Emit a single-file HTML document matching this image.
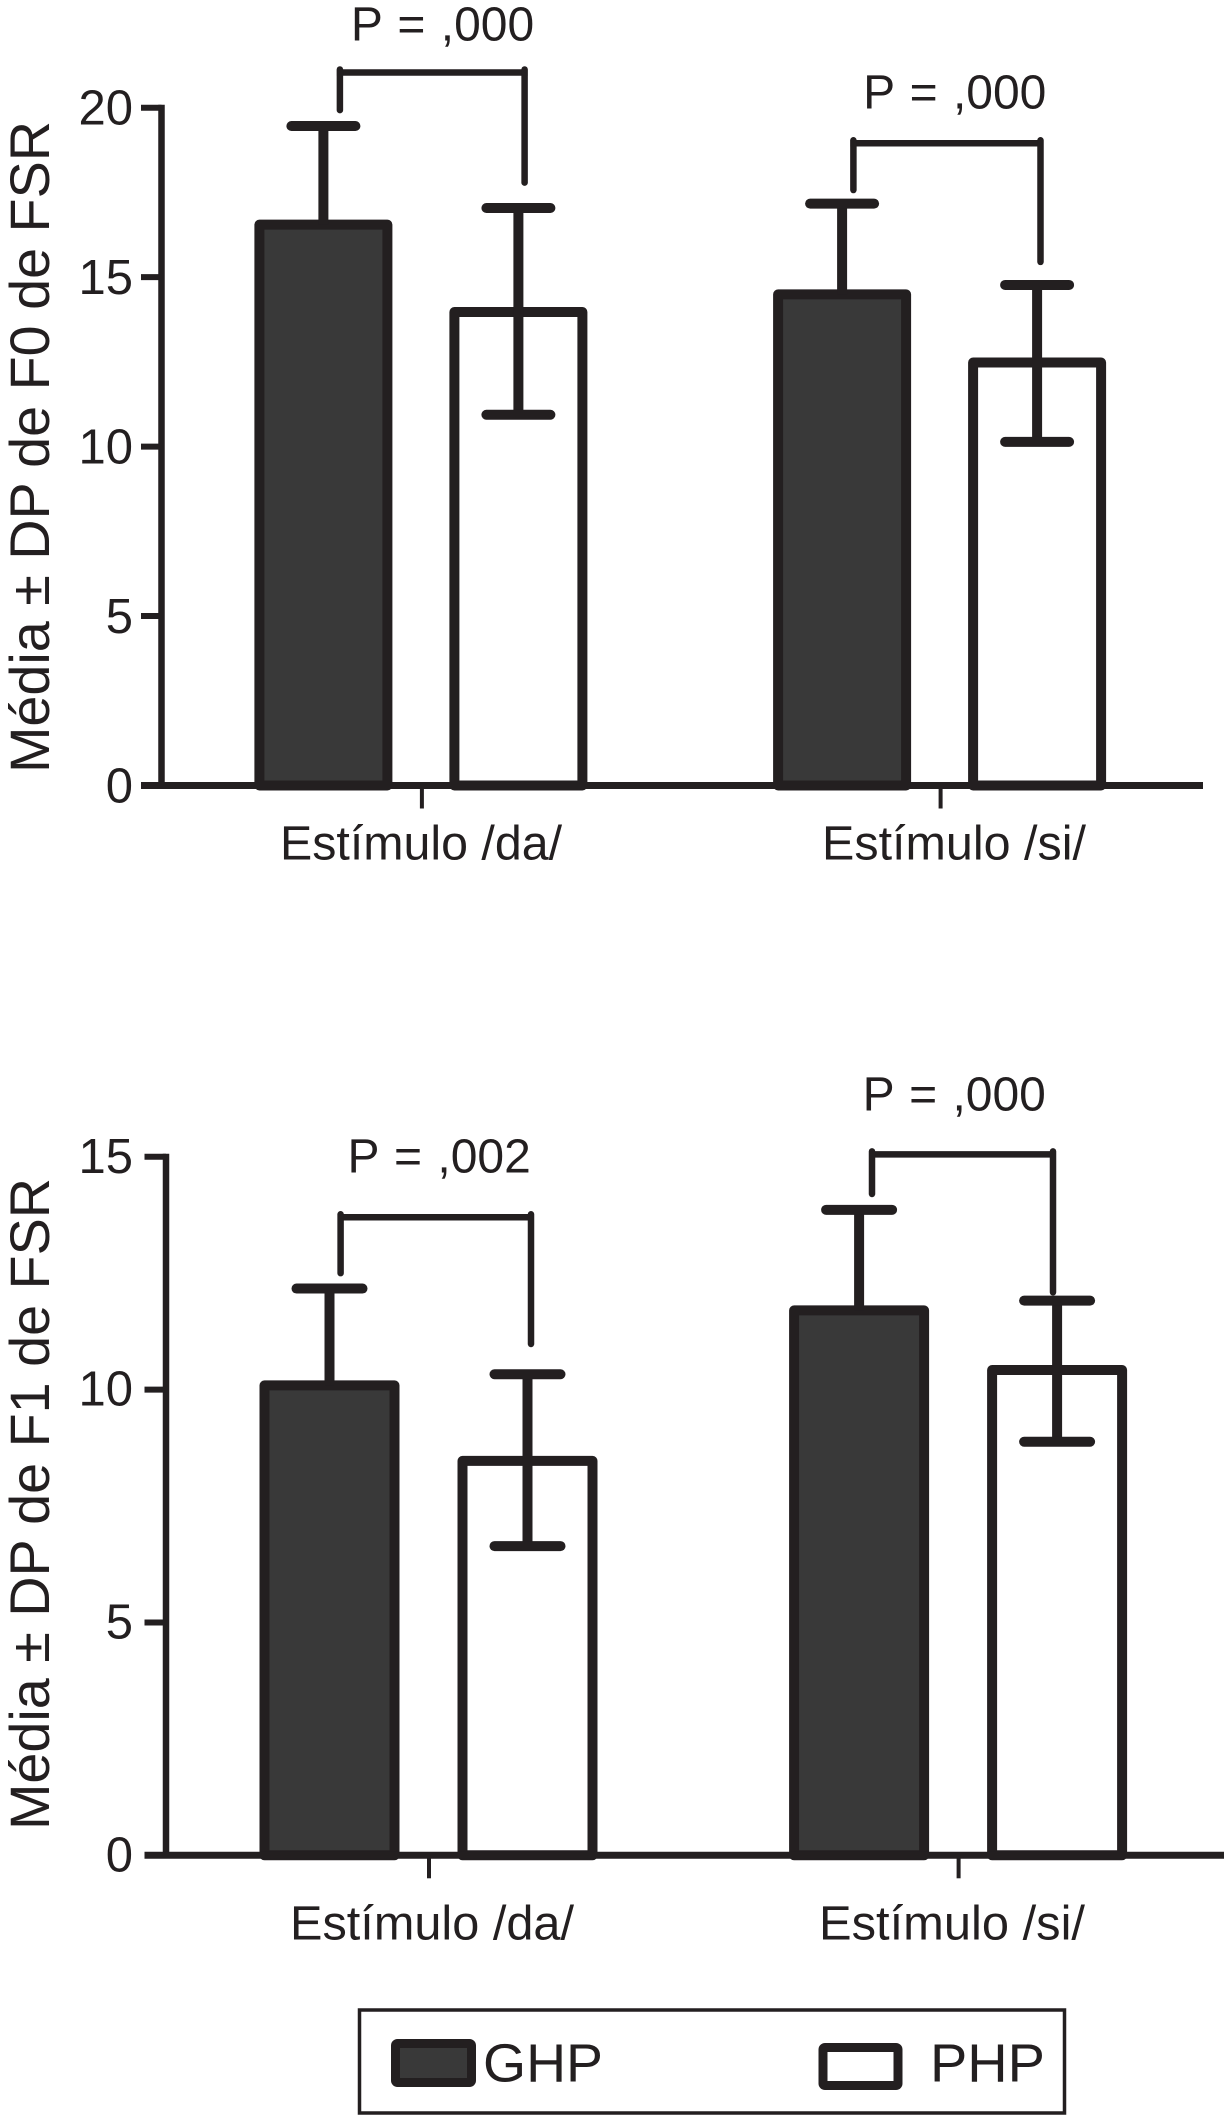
<!DOCTYPE html>
<html lang="pt">
<head>
<meta charset="utf-8">
<title>Média ± DP de F0 e F1 de FSR</title>
<style>
html,body{margin:0;padding:0;background:#fff;}
svg{display:block;}
text{font-family:"Liberation Sans",Arial,sans-serif;fill:#231f20;}
</style>
</head>
<body>
<svg id="figure" xmlns="http://www.w3.org/2000/svg" width="1224" height="2115" viewBox="0 0 1224 2115">
  <rect x="0" y="0" width="1224" height="2115" fill="#ffffff"/>
  <g id="chart-f0">
    <text transform="translate(49,773) rotate(-90)" font-size="55.5" textLength="652" lengthAdjust="spacingAndGlyphs">Média ± DP de F0 de FSR</text>
  </g>
  <g id="chart-f1">
    <text transform="translate(49,1830) rotate(-90)" font-size="55.5" textLength="652" lengthAdjust="spacingAndGlyphs">Média ± DP de F1 de FSR</text>
  </g>
  <g id="legend">
    <rect x="359.5" y="2010" width="705" height="103" fill="#ffffff" stroke="#231f20" stroke-width="3.5"/>
    <g>
      <rect x="395.5" y="2043.5" width="76" height="39" rx="2" fill="#393939" stroke="#231f20" stroke-width="9"/>
      <text x="483" y="2081.7" font-size="54" textLength="120" lengthAdjust="spacingAndGlyphs">GHP</text>
    </g>
    <g>
      <rect x="823" y="2047.5" width="75" height="38" rx="2" fill="#ffffff" stroke="#231f20" stroke-width="9"/>
      <text x="930" y="2081.7" font-size="54" textLength="115" lengthAdjust="spacingAndGlyphs">PHP</text>
    </g>
  </g>
</svg>
<script>
var f0Categories = ["Estímulo /da/", "Estímulo /si/"];
var f0TickValues = [0, 5, 10, 15, 20];
var f0TickLabels = ["0", "5", "10", "15", "20"];
var f0GhpMeans = [16.55, 14.49];
var f0GhpUpper = [19.46, 17.17];
var f0PhpMeans = [13.97, 12.48];
var f0PhpUpper = [17.04, 14.77];
var f0PhpLower = [10.94, 10.14];
var f0PValues = ["P = ,000", "P = ,000"];
var f0BracketTop = [21.04, 18.95];
var f0BracketLeftEnd = [19.93, 17.57];
var f0BracketRightEnd = [17.79, 15.45];

var f1Categories = ["Estímulo /da/", "Estímulo /si/"];
var f1TickValues = [0, 5, 10, 15];
var f1TickLabels = ["0", "5", "10", "15"];
var f1GhpMeans = [10.09, 11.7];
var f1GhpUpper = [12.17, 13.86];
var f1PhpMeans = [8.47, 10.42];
var f1PhpUpper = [10.33, 11.91];
var f1PhpLower = [6.64, 8.88];
var f1PValues = ["P = ,002", "P = ,000"];
var f1BracketTop = [13.7, 15.05];
var f1BracketLeftEnd = [12.5, 14.2];
var f1BracketRightEnd = [10.98, 12.09];

var SVG_NS = "http://www.w3.org/2000/svg";
var INK = "#231f20";

function makeLine(parent, x1, y1, x2, y2, width, cap) {
  var el = document.createElementNS(SVG_NS, "line");
  el.setAttribute("x1", x1);
  el.setAttribute("y1", y1);
  el.setAttribute("x2", x2);
  el.setAttribute("y2", y2);
  el.setAttribute("stroke", INK);
  el.setAttribute("stroke-width", width);
  el.setAttribute("stroke-linecap", cap || "butt");
  parent.appendChild(el);
  return el;
}

function makeText(parent, content, x, y, size, anchor) {
  var el = document.createElementNS(SVG_NS, "text");
  el.setAttribute("x", x);
  el.setAttribute("y", y);
  el.setAttribute("font-size", size);
  el.setAttribute("text-anchor", anchor || "start");
  el.textContent = content;
  parent.appendChild(el);
  return el;
}

function makeBar(parent, cx, width, top, bottom, fill) {
  var el = document.createElementNS(SVG_NS, "rect");
  el.setAttribute("x", cx - width / 2);
  el.setAttribute("y", top);
  el.setAttribute("width", width);
  el.setAttribute("height", bottom - top);
  el.setAttribute("fill", fill);
  el.setAttribute("stroke", INK);
  el.setAttribute("stroke-width", 10);
  el.setAttribute("stroke-linejoin", "round");
  parent.appendChild(el);
  return el;
}

function drawChart(root, layout, categories, tickValues, tickLabels, ghpMeans, ghpUpper, phpMeans, phpUpper, phpLower, pValues, bracketTop, bracketLeft, bracketRight) {
  function yScale(v) {
    return layout.y0 - v * layout.unit;
  }
  function xBand(i) {
    return layout.firstCategoryX + i * layout.categoryStep;
  }
  var i, el, cx, g;

  for (i = 0; i < categories.length; i++) {
    cx = xBand(i);
    var gx = cx - layout.ghpOffset;
    var px = cx + layout.phpOffset;

    el = makeBar(root, gx, layout.barWidth, yScale(ghpMeans[i]), layout.y0, "#393939");
    
    

    el = makeBar(root, px, layout.barWidth, yScale(phpMeans[i]), layout.y0, "#ffffff");
    
    

    g = document.createElementNS(SVG_NS, "g");
    
    
    root.appendChild(g);
    makeLine(g, gx, yScale(ghpMeans[i]), gx, yScale(ghpUpper[i]), 10);
    makeLine(g, gx - layout.cap, yScale(ghpUpper[i]), gx + layout.cap, yScale(ghpUpper[i]), 10, "round");

    g = document.createElementNS(SVG_NS, "g");
    
    
    root.appendChild(g);
    makeLine(g, px, yScale(phpLower[i]), px, yScale(phpUpper[i]), 10);
    makeLine(g, px - layout.cap, yScale(phpUpper[i]), px + layout.cap, yScale(phpUpper[i]), 10, "round");
    makeLine(g, px - layout.cap, yScale(phpLower[i]), px + layout.cap, yScale(phpLower[i]), 10, "round");

    g = document.createElementNS(SVG_NS, "g");
    
    
    root.appendChild(g);
    var lx = cx + layout.bracketLeft[i];
    var rx = cx + layout.bracketRight[i];
    makeLine(g, lx - 3, yScale(bracketTop[i]), rx + 3, yScale(bracketTop[i]), 6.5);
    makeLine(g, lx, yScale(bracketTop[i]) - 3, lx, yScale(bracketLeft[i]), 6.5, "round");
    makeLine(g, rx, yScale(bracketTop[i]) - 3, rx, yScale(bracketRight[i]), 6.5, "round");

    el = makeText(root, pValues[i], cx + layout.pLabelX[i], layout.pLabelY[i], 48);
    el.setAttribute("word-spacing", "2");
    
    

    el = makeLine(root, xBand(i), layout.y0, xBand(i), layout.y0 + layout.tickDown, 4);
    
    

    el = makeText(root, categories[i], layout.labelX[i], layout.labelY, 48);
    el.setAttribute("textLength", layout.labelWidth[i]);
    el.setAttribute("lengthAdjust", "spacingAndGlyphs");
    
    
  }

  el = makeLine(root, layout.axisX, yScale(tickValues[tickValues.length - 1]) - 3, layout.axisX, layout.y0, 6.5);
  
  

  el = makeLine(root, layout.tickStart, layout.y0, layout.axisEnd, layout.y0, 7);
  
  

  for (i = 0; i < tickValues.length; i++) {
    el = makeLine(root, layout.tickStart, yScale(tickValues[i]), layout.axisX, yScale(tickValues[i]), 6);
    
    

    el = makeText(root, tickLabels[i], 133, yScale(tickValues[i]) + layout.tickLabelShift, 49, "end");
    
    
  }
}

drawChart(document.getElementById("chart-f0"), {
  y0: 785.5, unit: 33.89,
  firstCategoryX: 421.9, categoryStep: 518.7,
  ghpOffset: 98.5, phpOffset: 96.5, barWidth: 128, cap: 32,
  axisX: 161.5, tickStart: 141, axisEnd: 1203, tickDown: 23,
  bracketLeft: [-82, -87.2], bracketRight: [102.7, 99.9],
  pLabelX: [-71, -77.5], pLabelY: [40.7, 108.7],
  labelX: [280, 822], labelY: 859.3, labelWidth: [282, 264],
  tickLabelShift: 17
}, f0Categories, f0TickValues, f0TickLabels, f0GhpMeans, f0GhpUpper, f0PhpMeans, f0PhpUpper, f0PhpLower, f0PValues, f0BracketTop, f0BracketLeftEnd, f0BracketRightEnd);

drawChart(document.getElementById("chart-f1"), {
  y0: 1855.3, unit: 46.57,
  firstCategoryX: 429, categoryStep: 529.6,
  ghpOffset: 99.5, phpOffset: 98.5, barWidth: 130, cap: 33,
  axisX: 166, tickStart: 144.5, axisEnd: 1224, tickDown: 23,
  bracketLeft: [-88.4, -86.6], bracketRight: [102, 94.4],
  pLabelX: [-81.5, -96], pLabelY: [1172.7, 1110.7],
  labelX: [290, 819], labelY: 1939.3, labelWidth: [284, 266],
  tickLabelShift: 16
}, f1Categories, f1TickValues, f1TickLabels, f1GhpMeans, f1GhpUpper, f1PhpMeans, f1PhpUpper, f1PhpLower, f1PValues, f1BracketTop, f1BracketLeftEnd, f1BracketRightEnd);
</script>
</body>
</html>
